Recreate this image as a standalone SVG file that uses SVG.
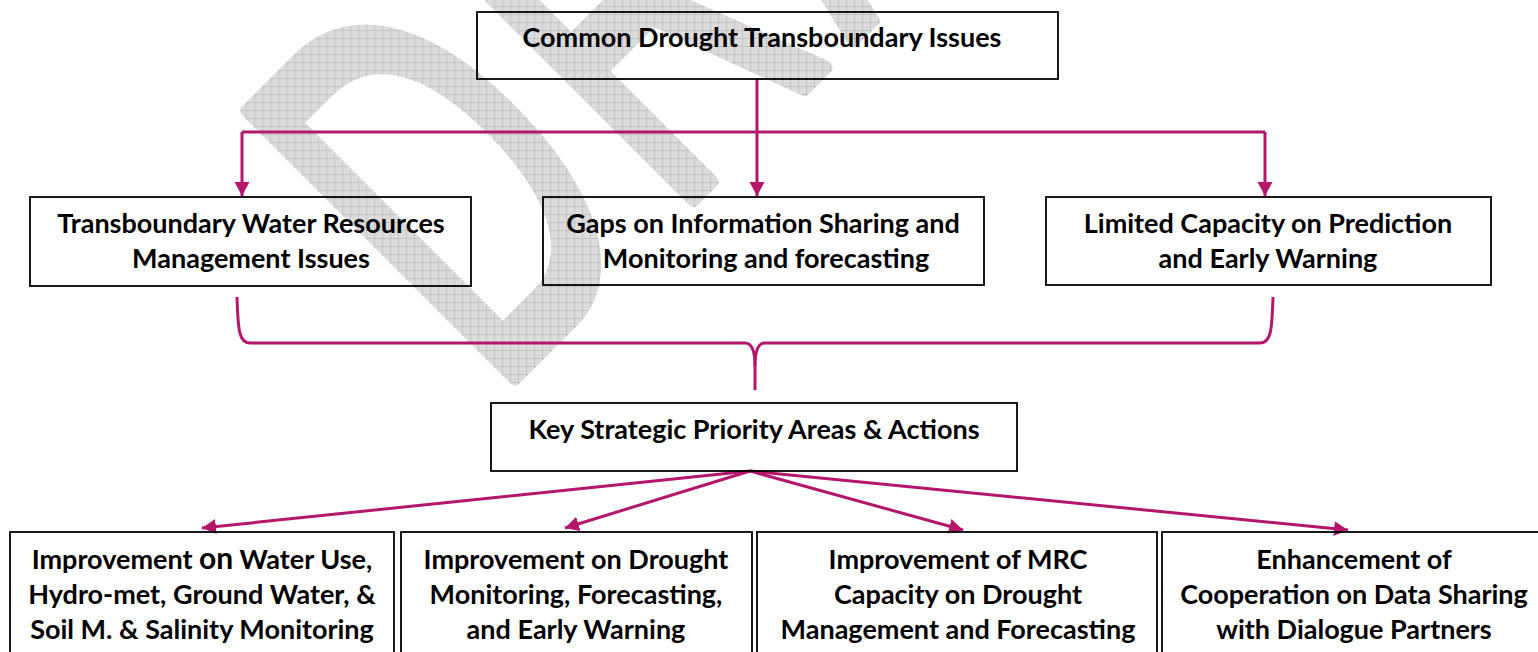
<svg xmlns="http://www.w3.org/2000/svg" width="1538" height="652" viewBox="0 0 1538 652">
<style>
.box{fill:none;stroke:#000;stroke-width:1.8}
.t{font-family:Lato,"Liberation Sans",sans-serif;font-weight:bold;font-size:27px;fill:#000;text-anchor:middle}
.c{fill:none;stroke:#B3166B;stroke-width:3}
.wm{font-family:"Liberation Sans",Arial,sans-serif;font-size:322px;fill:url(#grid);stroke:url(#grid);stroke-width:9;stroke-linejoin:round}
</style>
<defs>
<pattern id="grid" patternUnits="userSpaceOnUse" width="8" height="8" patternTransform="scale(1,0.588) rotate(45)">
<rect width="8" height="8" fill="#dcdcdc"/>
<path d="M0,0.5H8M0.5,0V8" stroke="#c4c4c4" stroke-width="1"/>
</pattern>
<marker id="ah" markerUnits="userSpaceOnUse" markerWidth="16" markerHeight="16" refX="14" refY="7.5" orient="auto">
<path d="M0,0L14,7.5L0,15z" fill="#B3166B"/>
</marker>
</defs>
<rect width="1538" height="652" fill="#fff"/>
<g id="watermark">
<text class="wm" letter-spacing="20" transform="translate(494,398) rotate(-45) scale(1,1.7)">DRAFT</text>
</g>
<g id="connectors">
<path class="c" d="M757,79V196" marker-end="url(#ah)"/>
<path class="c" d="M242,132H1265"/>
<path class="c" d="M242,132V196" marker-end="url(#ah)"/>
<path class="c" d="M1265,132V196" marker-end="url(#ah)"/>
<path class="c" d="M237,297C238,330 239,343 250,343H745C752,343 755,350 755,366V390"/>
<path class="c" d="M1273,297C1272,330 1271,343 1260,343H765C758,343 755,350 755,366"/>
<path class="c" d="M750,471L202,528" marker-end="url(#ah)"/>
<path class="c" d="M750,471L565,528" marker-end="url(#ah)"/>
<path class="c" d="M750,471L963,530" marker-end="url(#ah)"/>
<path class="c" d="M750,471L1348,530" marker-end="url(#ah)"/>
</g>
<g id="n-top">
<rect class="box" x="477" y="12" width="581" height="67"/>
<text class="t" x="762" y="47">Common Drought Transboundary Issues</text>
</g>
<g id="n-twrm">
<rect class="box" x="30" y="197" width="441" height="89"/>
<text class="t" x="251" y="233">Transboundary Water Resources</text>
<text class="t" x="251" y="268">Management Issues</text>
</g>
<g id="n-gaps">
<rect class="box" x="543" y="197" width="441" height="88"/>
<text class="t" x="763" y="233">Gaps on Information Sharing and</text>
<text class="t" x="766" y="268">Monitoring and forecasting</text>
</g>
<g id="n-limited">
<rect class="box" x="1046" y="197" width="445" height="88"/>
<text class="t" x="1268" y="233">Limited Capacity on Prediction</text>
<text class="t" x="1268" y="268">and Early Warning</text>
</g>
<g id="n-key">
<rect class="box" x="491" y="403" width="526" height="68"/>
<text class="t" x="754" y="439">Key Strategic Priority Areas &amp; Actions</text>
</g>
<g id="n-b1">
<rect class="box" x="10" y="532" width="384" height="140"/>
<text class="t" x="202" y="569">Improvement <tspan font-size="30px">on</tspan> Water Use,</text>
<text class="t" x="202" y="604">Hydro-met, Ground Water, &amp;</text>
<text class="t" x="202" y="639">Soil M. &amp; Salinity Monitoring</text>
</g>
<g id="n-b2">
<rect class="box" x="401" y="532" width="351" height="140"/>
<text class="t" x="576" y="569">Improvement on Drought</text>
<text class="t" x="576" y="604">Monitoring, Forecasting,</text>
<text class="t" x="576" y="639">and Early Warning</text>
</g>
<g id="n-b3">
<rect class="box" x="757" y="532" width="400" height="140"/>
<text class="t" x="958" y="569">Improvement of MRC</text>
<text class="t" x="958" y="604">Capacity on Drought</text>
<text class="t" x="958" y="639">Management and Forecasting</text>
</g>
<g id="n-b4">
<rect class="box" x="1162" y="532" width="384" height="140"/>
<text class="t" x="1354" y="569">Enhancement of</text>
<text class="t" x="1354" y="604">Cooperation on Data Sharing</text>
<text class="t" x="1354" y="639">with Dialogue Partners</text>
</g>
</svg>
